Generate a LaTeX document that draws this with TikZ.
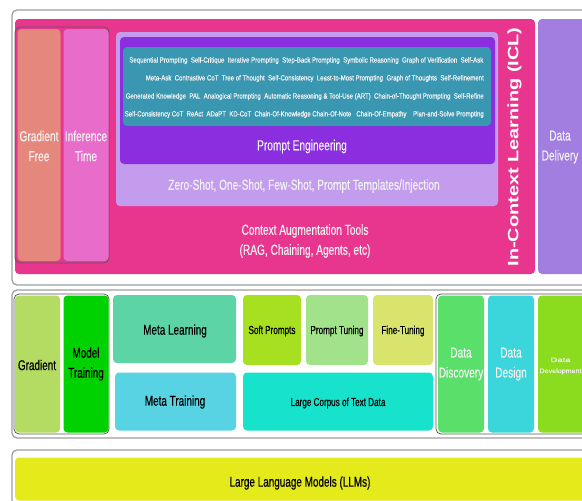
\documentclass[tikz,border=0pt]{standalone}
\usepackage{fontspec}
\usepackage{graphicx}
\setmainfont[FakeStretch=0.70,FakeBold=0.4]{Liberation Sans}
\newfontfamily\widefont{Liberation Sans}
\definecolor{cPink}{HTML}{E8368F}
\definecolor{cGFree}{HTML}{E5877C}
\definecolor{cInf}{HTML}{E86DCB}
\definecolor{cLav}{HTML}{C39CEE}
\definecolor{cPurp}{HTML}{8A2EE0}
\definecolor{cTeal}{HTML}{3A97B1}
\definecolor{cDel}{HTML}{A17EDF}
\definecolor{cGrad}{HTML}{B4DB62}
\definecolor{cModel}{HTML}{00D100}
\definecolor{cMetaL}{HTML}{5DD4A5}
\definecolor{cMetaT}{HTML}{57D3E3}
\definecolor{cSoft}{HTML}{A6E021}
\definecolor{cPT}{HTML}{A2E28B}
\definecolor{cFT}{HTML}{D8E46C}
\definecolor{cCorp}{HTML}{17E3CD}
\definecolor{cDisc}{HTML}{5ADF6B}
\definecolor{cDes}{HTML}{3BD6DC}
\definecolor{cDev}{HTML}{8BDB1F}
\definecolor{cLLM}{HTML}{E5EA1B}
\definecolor{cTxt}{HTML}{F2F2F2}
\newcommand\tline[2]{\resizebox{#1}{\height}{\fontsize{7.5}{8}\selectfont #2}}
\tikzset{
  panel/.style={draw=gray!75, line width=1.3pt, rounded corners=5pt, fill=white, inner sep=0pt},
  box/.style={rounded corners=4pt, inner sep=0pt, align=center},
  grp/.style={draw=black!65, line width=0.8pt, rounded corners=5pt, inner sep=0pt},
  wt/.style={text=cTxt, font=\fontsize{14.5}{20}\selectfont, align=center},
  bt/.style={text=black, font=\fontsize{14.2}{20}\selectfont, align=center},
  st/.style={text=black, font=\fontsize{11.6}{14}\selectfont, align=center},
  tl/.style={text=cTxt, anchor=east, inner sep=0pt},
}
\begin{document}
\begin{tikzpicture}[x=1pt,y=-1pt]
\useasboundingbox (0,0) rectangle (582,501);
\fill[white] (0,0) rectangle (582,501);
% ---------- top panel ----------
\node[panel, minimum width=578pt, minimum height=275pt] (panA) at (301,147.5) {};
\node[box, fill=cPink, minimum width=520pt, minimum height=255pt] (icl) at (275,146.5) {};
\node[box, fill=cDel, minimum width=52pt, minimum height=255pt] (deliv) at (564,146.5) {};
\node[wt] (delivT) at (560,147) {Data\\Delivery};
\node[grp, minimum width=94pt, minimum height=236pt] (grpA) at (62,145) {};
\node[box, fill=cGFree, minimum width=43pt, minimum height=232pt] (gfree) at (39,145) {};
\node[box, fill=cInf, minimum width=45pt, minimum height=232pt] (inft) at (86,145) {};
\node[wt] (gfreeT) at (39,146) {Gradient\\Free};
\node[wt] (inftT) at (86,146) {Inference\\Time};
\node[box, fill=cLav, minimum width=382pt, minimum height=174pt] (lav) at (307,119) {};
\node[box, fill=cPurp, minimum width=375pt, minimum height=127pt] (pe) at (307.5,100.5) {};
\node[box, fill=cTeal, minimum width=368pt, minimum height=79pt] (teal) at (307,86.5) {};
\node[tl] (l1) at (483.5,60.6) {\tline{354pt}{Sequential Prompting\ \ Self-Critique\ \ Iterative Prompting\ \ Step-Back Prompting\ \ Symbolic Reasoning\ \ Graph of Verification\ \ Self-Ask}};
\node[tl] (l2) at (484,78.5) {\tline{338pt}{Meta-Ask\ \ Contrastive CoT\ \ Tree of Thought\ \ Self-Consistency\ \ Least-to-Most Prompting\ \ Graph of Thoughts\ \ Self-Refinement}};
\node[tl] (l3) at (484,96.6) {\tline{358pt}{Generated Knowledge\ \ PAL\ \ Analogical Prompting\ \ Automatic Reasoning \& Tool-Use (ART)\ \ Chain-of-Thought Prompting\ \ Self-Refine}};
\node[tl] (l4) at (484,114.5) {\tline{359pt}{Self-Consistency CoT\ \ ReAct\ \ ADaPT\ \ KD-CoT\ \ Chain-Of-Knowledge Chain-Of-Note\ \ \ Chain-Of-Empathy\ \ \ \ Plan-and-Solve Prompting}};
\node[wt] (peT) at (302,146.5) {Prompt Engineering};
\node[wt] (zsT) at (304,186) {Zero-Shot, One-Shot, Few-Shot, Prompt Templates/Injection};
\node[wt] (catT) at (305,241) {Context Augmentation Tools\\(RAG, Chaining, Agents, etc)};
\node[text=white, rotate=90, inner sep=0pt] (iclT) at (514.5,147) {\resizebox{239pt}{\height}{\widefont\bfseries\fontsize{15}{15}\selectfont In-Context Learning (ICL)}};
% ---------- middle panel ----------
\node[panel, minimum width=578pt, minimum height=148pt] (panB) at (301,364) {};
\node[grp, minimum width=95pt, minimum height=140pt] (grpB) at (61.5,364) {};
\node[box, fill=cGrad, minimum width=45pt, minimum height=137pt] (grad) at (37.5,364) {};
\node[box, fill=cModel, minimum width=45pt, minimum height=137pt] (model) at (86,364) {};
\node[bt] (gradT) at (37,365) {Gradient};
\node[bt] (modelT) at (86,364) {Model\\Training};
\node[box, fill=cMetaL, minimum width=123pt, minimum height=68pt] (metaL) at (174.5,329) {};
\node[bt] (metaLT) at (175,331) {Meta Learning};
\node[box, fill=cMetaT, minimum width=121pt, minimum height=58pt] (metaT) at (175.5,401.5) {};
\node[bt] (metaTT) at (175,402) {Meta Training};
\node[box, fill=cSoft, minimum width=58pt, minimum height=70pt] (soft) at (272,330) {};
\node[st] (softT) at (272,331) {Soft Prompts};
\node[box, fill=cPT, minimum width=62pt, minimum height=70pt] (ptun) at (337,330) {};
\node[st] (ptunT) at (337,331) {Prompt Tuning};
\node[box, fill=cFT, minimum width=60pt, minimum height=70pt] (ftun) at (403,330) {};
\node[st] (ftunT) at (403,331) {Fine-Tuning};
\node[box, fill=cCorp, minimum width=190pt, minimum height=58pt] (corp) at (338,401.5) {};
\node[st] (corpT) at (338,403) {Large Corpus of Text Data};
\node[grp, minimum width=154pt, minimum height=140pt] (grpC) at (513,364) {};
\node[box, fill=cDisc, minimum width=46pt, minimum height=137pt] (disc) at (461,364) {};
\node[wt] (discT) at (461,364) {Data\\Discovery};
\node[box, fill=cDes, minimum width=46pt, minimum height=137pt] (des) at (511,364) {};
\node[wt] (desT) at (511,364) {Data\\Design};
\node[box, fill=cDev, minimum width=52pt, minimum height=137pt] (dev) at (564,364) {};
\node[text=cTxt, align=center, inner sep=0pt] (devT) at (560.5,366) {\resizebox{20pt}{\height}{\fontsize{6.5}{8}\selectfont Data}\\[-1pt]\resizebox{42pt}{\height}{\fontsize{6.5}{8}\selectfont Development}};
% ---------- bottom panel ----------
\node[panel, minimum width=578pt, minimum height=70pt] (panC) at (301,485) {};
\node[box, fill=cLLM, minimum width=575pt, minimum height=43pt] (llm) at (302.5,479) {};
\node[text=black, font=\fontsize{14.2}{16}\selectfont] (llmT) at (300,483) {Large Language Models (LLMs)};
\end{tikzpicture}
\end{document}
